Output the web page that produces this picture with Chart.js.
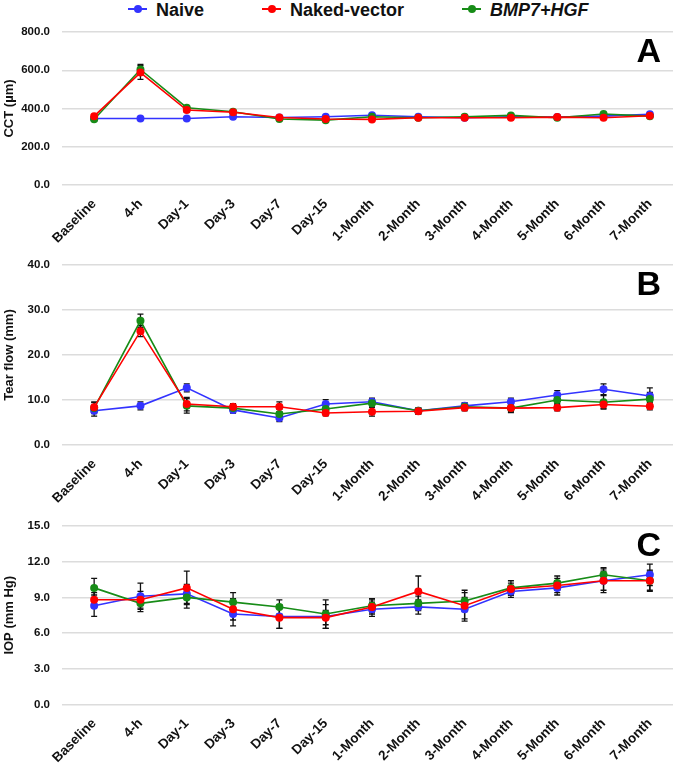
<!DOCTYPE html>
<html>
<head>
<meta charset="utf-8">
<script src="https://cdn.jsdelivr.net/npm/chart.js@4.4.0/dist/chart.umd.min.js"></script>
<style>
  body { margin: 0; background: #fff; font-family: Arial, "Liberation Sans", sans-serif; }
  #wrap { position: relative; width: 677px; height: 767px; overflow: hidden; }
  .panel { position: absolute; left: 0; }
  .item { position: absolute; top: 0px; font-weight: bold; font-size: 18px; color: #111; white-space: nowrap; }
  .mark { display: inline-block; position: relative; width: 19px; height: 2px; vertical-align: middle; margin-right: 9px; top: -2px; }
  .mark i { position: absolute; left: 6px; top: -3px; width: 8px; height: 8px; border-radius: 50%; }
</style>
</head>
<body>
<div id="wrap">
  <div class="item" style="left:128px"><span class="mark" style="background:#3333ff"><i style="background:#3333ff"></i></span>Naive</div>
  <div class="item" style="left:262px"><span class="mark" style="background:#ff0000"><i style="background:#ff0000"></i></span>Naked-vector</div>
  <div class="item" style="left:462px"><span class="mark" style="background:#178c17"><i style="background:#178c17"></i></span><em>BMP7+HGF</em></div>

  <canvas id="chartA" class="panel" style="top:0px" width="677" height="260"></canvas>
  <canvas id="chartB" class="panel" style="top:232px" width="677" height="290"></canvas>
  <canvas id="chartC" class="panel" style="top:492px" width="677" height="275"></canvas>
</div>

<script>
const labels = ['Baseline', '4-h', 'Day-1', 'Day-3', 'Day-7', 'Day-15', '1-Month', '2-Month', '3-Month', '4-Month', '5-Month', '6-Month', '7-Month'];

// A - CCT (um)
const cctNaive = [348, 348, 348, 357, 353, 357, 365, 357, 352, 357, 355, 360, 370];
const cctNaked = [360, 588, 392, 380, 353, 345, 343, 352, 352, 352, 355, 352, 362];
const cctBmp   = [344, 604, 404, 383, 345, 339, 357, 352, 357, 364, 352, 371, 360];
const cctNaiveErr = [4, 4, 4, 4, 4, 4, 4, 4, 4, 4, 4, 4, 4];
const cctNakedErr = [8, 36, 12, 10, 6, 6, 6, 6, 6, 6, 6, 6, 6];
const cctBmpErr   = [8, 26, 10, 10, 6, 6, 6, 6, 6, 6, 6, 6, 6];

// B - Tear flow (mm)
const tfNaive = [7.6, 8.7, 12.7, 7.8, 6.0, 9.1, 9.6, 7.6, 8.7, 9.6, 11.1, 12.4, 10.9];
const tfNaked = [8.4, 25.3, 9.1, 8.5, 8.5, 7.1, 7.4, 7.5, 8.3, 8.2, 8.3, 9.0, 8.6];
const tfBmp   = [8.2, 27.6, 8.7, 8.2, 6.9, 8.0, 9.3, 7.6, 8.5, 8.2, 10.0, 9.5, 10.2];
const tfNaiveErr = [1.2, 0.9, 0.9, 0.7, 0.8, 1.0, 0.8, 0.6, 0.7, 0.8, 1.0, 1.2, 1.8];
const tfNakedErr = [1.2, 1.2, 1.5, 0.7, 1.1, 0.6, 1.0, 0.7, 0.7, 1.0, 0.7, 0.8, 0.8];
const tfBmpErr   = [1.2, 1.5, 1.6, 0.7, 1.0, 0.8, 0.9, 0.6, 0.7, 0.8, 0.8, 1.5, 1.5];

// C - IOP (mm Hg)
const iopNaive = [8.3, 9.1, 9.3, 7.6, 7.4, 7.4, 8.0, 8.2, 8.0, 9.5, 9.8, 10.4, 10.9];
const iopNaked = [8.8, 8.8, 9.8, 8.0, 7.3, 7.3, 8.2, 9.5, 8.3, 9.7, 10.0, 10.4, 10.4];
const iopBmp   = [9.8, 8.5, 9.0, 8.6, 8.2, 7.6, 8.3, 8.5, 8.7, 9.8, 10.2, 10.9, 10.4];
const iopNaiveErr = [0.9, 1.1, 0.8, 1.0, 1.0, 1.0, 0.6, 0.6, 1.0, 0.5, 0.6, 0.8, 0.9];
const iopNakedErr = [0.6, 0.7, 1.4, 0.9, 0.9, 0.6, 0.6, 1.3, 1.1, 0.5, 0.6, 1.0, 0.9];
const iopBmpErr   = [0.8, 0.7, 0.9, 0.8, 0.6, 1.2, 0.6, 0.6, 0.9, 0.6, 0.6, 0.6, 0.8];

const FONT = 'Arial, "Liberation Sans", sans-serif';
const BLUE = '#3333ff', RED = '#ff0000', GREEN = '#178c17';

// black SD bars, drawn under the lines/points
const errorBars = {
  id: 'errorBars',
  beforeDatasetsDraw(chart) {
    const ctx = chart.ctx, y = chart.scales.y;
    ctx.save();
    ctx.strokeStyle = '#111';
    ctx.lineWidth = 1.3;
    chart.data.datasets.forEach((ds, i) => {
      chart.getDatasetMeta(i).data.forEach((pt, j) => {
        const top = y.getPixelForValue(ds.data[j] + ds.errors[j]);
        const bot = y.getPixelForValue(ds.data[j] - ds.errors[j]);
        ctx.beginPath();
        ctx.moveTo(pt.x, top); ctx.lineTo(pt.x, bot);
        ctx.moveTo(pt.x - 3, top); ctx.lineTo(pt.x + 3, top);
        ctx.moveTo(pt.x - 3, bot); ctx.lineTo(pt.x + 3, bot);
        ctx.stroke();
      });
    });
    ctx.restore();
  }
};

// big panel letter in the top right corner
const panelLetter = {
  id: 'panelLetter',
  afterDraw(chart, args, opts) {
    const { ctx, chartArea } = chart;
    ctx.save();
    ctx.font = 'bold 34px ' + FONT;
    ctx.fillStyle = '#000';
    ctx.textAlign = 'right';
    ctx.fillText(opts.text, chartArea.right - 12, chartArea.top + 30);
    ctx.restore();
  }
};

function series(label, data, errors, color, order) {
  return {
    label, data, errors, order,
    borderColor: color, backgroundColor: color,
    borderWidth: 1.6, pointRadius: 4, pointBorderWidth: 0, tension: 0
  };
}

function makePanel(id, letter, title, naive, naked, bmp, errs, max, step, padTop, axisH) {
  new Chart(document.getElementById(id), {
    type: 'line',
    data: {
      labels: labels,
      datasets: [
        series('Naive', naive, errs[0], BLUE, 2),
        series('Naked-vector', naked, errs[1], RED, 0),
        series('BMP7+HGF', bmp, errs[2], GREEN, 1)
      ]
    },
    options: {
      responsive: false,
      animation: false,
      layout: { padding: { top: padTop, right: 1, left: 0, bottom: 0 } },
      plugins: {
        legend: { display: false },
        tooltip: { enabled: false },
        panelLetter: { text: letter }
      },
      scales: {
        x: {
          offset: true,
          grid: { display: false },
          border: { display: false },
          ticks: {
            autoSkip: false, maxRotation: 45, minRotation: 45, padding: 3,
            color: '#111', font: { family: FONT, size: 13.5, weight: 'bold' }
          },
          afterFit(s) { s.height = axisH; }
        },
        y: {
          min: 0, max: max,
          grid: { color: '#dcdcdc', lineWidth: 1.5, drawTicks: true, tickLength: 9 },
          border: { display: false },
          ticks: {
            stepSize: step, padding: 12, color: '#111',
            font: { family: FONT, size: 11.5, weight: 'bold' },
            callback: v => v.toFixed(1)
          },
          title: {
            display: true, text: title, color: '#111',
            font: { family: FONT, size: 13, weight: 'bold' },
            padding: { top: 2, bottom: 0 }
          },
          afterFit(s) { s.width = 71; }
        }
      }
    },
    plugins: [errorBars, panelLetter]
  });
}

makePanel('chartA', 'A', 'CCT (µm)', cctNaive, cctNaked, cctBmp,
  [cctNaiveErr, cctNakedErr, cctBmpErr], 800, 200, 32, 75);
makePanel('chartB', 'B', 'Tear flow (mm)', tfNaive, tfNaked, tfBmp,
  [tfNaiveErr, tfNakedErr, tfBmpErr], 40, 10, 33, 77);
makePanel('chartC', 'C', 'IOP (mm Hg)', iopNaive, iopNaked, iopBmp,
  [iopNaiveErr, iopNakedErr, iopBmpErr], 15, 3, 34, 62.5);
</script>
</body>
</html>
